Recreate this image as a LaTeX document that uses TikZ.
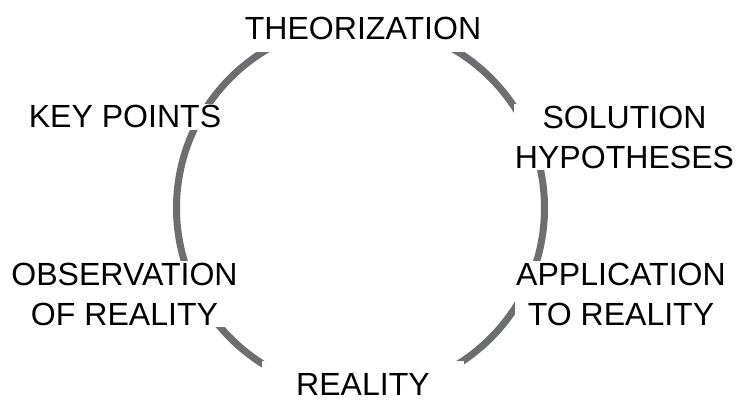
\documentclass[tikz,border=0pt]{standalone}
\usepackage{fontspec}
\setmainfont{Liberation Sans}
\usepackage{tikz}
\definecolor{cyclegrey}{RGB}{109,110,113}
\tikzstyle{etape} = [rectangle, fill=white, inner sep=1pt, align=center, font=\fontsize{22.8}{28.45}\selectfont]

\begin{document}
\begin{tikzpicture}
        \useasboundingbox (-9.0125,-4.8) rectangle (9.4125,5.2);

        % the cycle, hidden behind the labels
        \draw[cyclegrey, line width=5pt] (0,0) circle (4.6);

        \node (theo) [etape, anchor=base, inner ysep=8.5pt] at (0.0625,4.2) {THEORIZATION};
        \node (keys) [etape, anchor=base] at (-5.8875,2.0) {KEY POINTS};
        \node (hypo) [etape, anchor=north] at (6.6,2.6) {SOLUTION\\HYPOTHESES};
        \node (obs) [etape, anchor=north] at (-5.9,-1.325) {OBSERVATION\\OF REALITY};
        \node (appl) [etape, anchor=north] at (6.5125,-1.325) {APPLICATION\\TO REALITY};
        \node (real) [etape, anchor=base, inner xsep=24pt, text height=23.8pt] at (0.0625,-4.7) {REALITY};

    \end{tikzpicture}
\end{document}
